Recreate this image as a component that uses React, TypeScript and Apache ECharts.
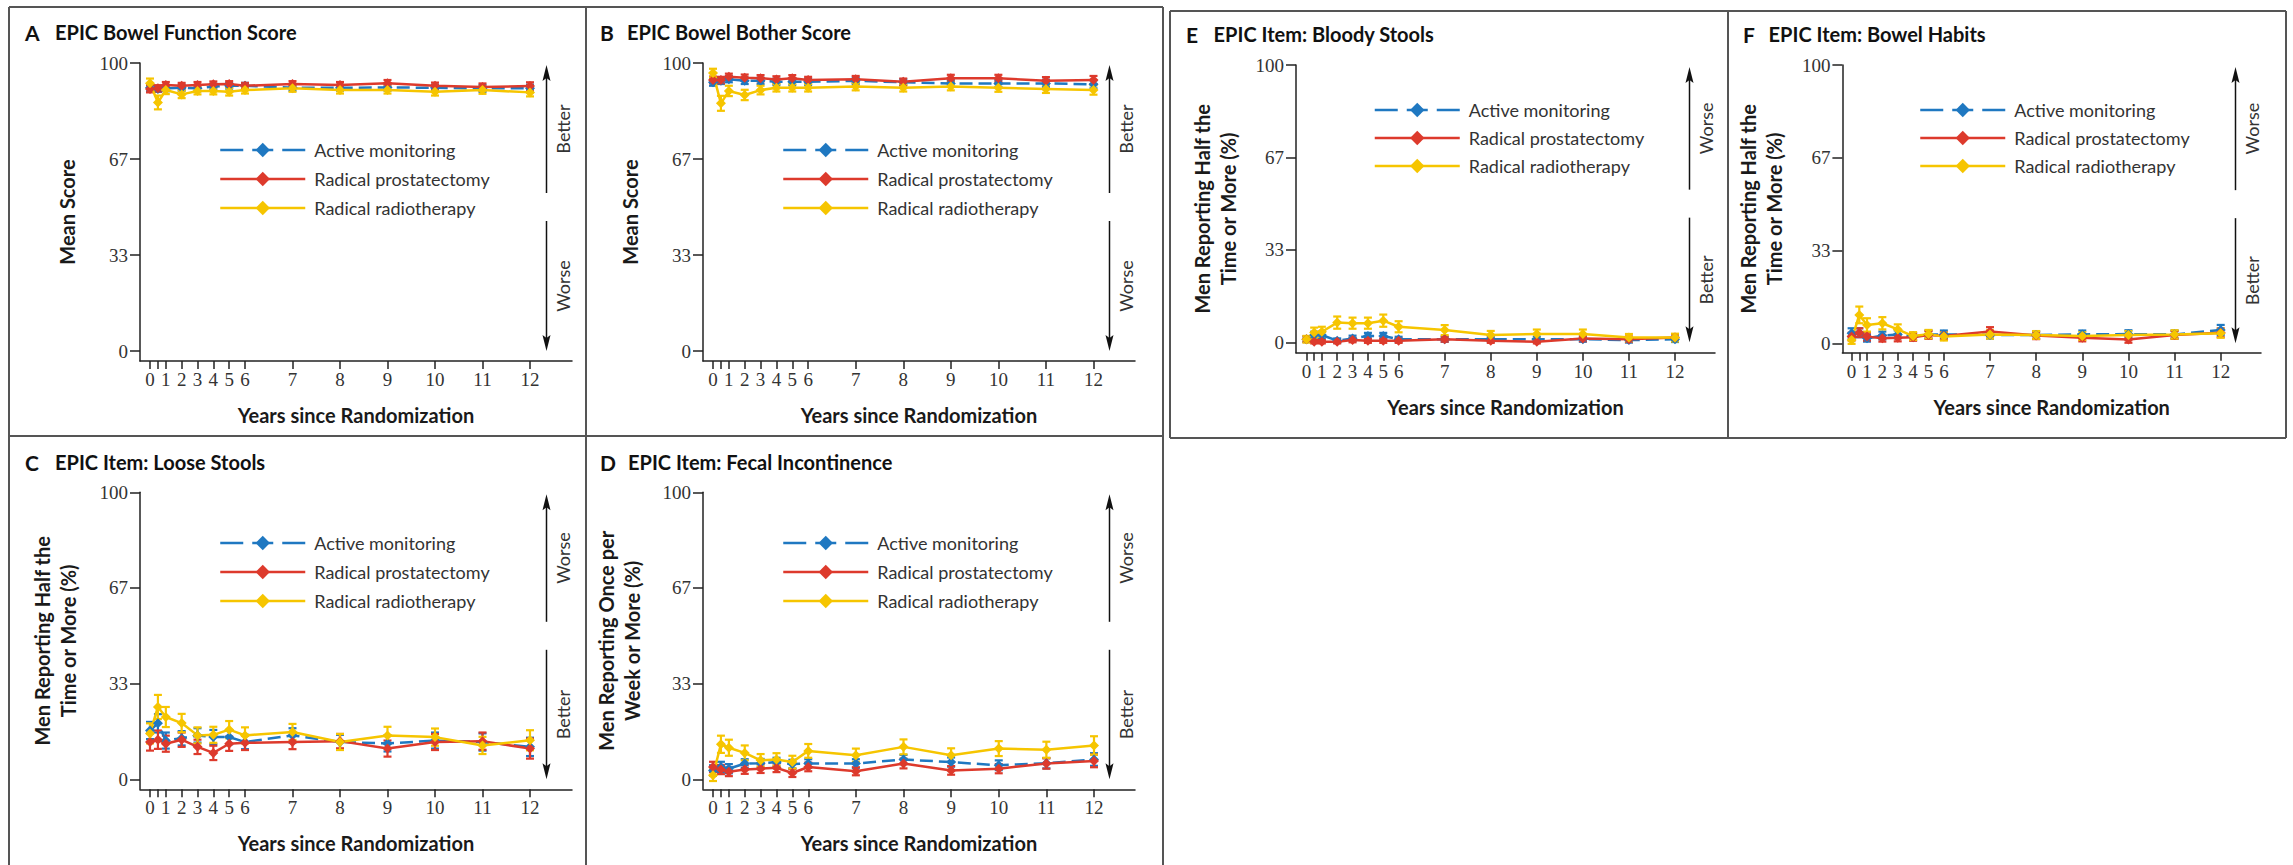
import React, { useEffect, useRef } from 'react';
import * as echarts from 'echarts';

// ---------------- data ----------------
const years = [0, 0.5, 1, 2, 3, 4, 5, 6, 7, 8, 9, 10, 11, 12];
const xTickYears = [0, 0.5, 1, 2, 3, 4, 5, 6, 7, 8, 9, 10, 11, 12];
const xLabelYears = [0, 1, 2, 3, 4, 5, 6, 7, 8, 9, 10, 11, 12];
const yTickValues = [0, 100 / 3, 200 / 3, 100];
const seriesNames = ['Active monitoring', 'Radical prostatectomy', 'Radical radiotherapy'];

const panelLetters = ['A', 'B', 'C', 'D', 'E', 'F'];
const panelTitles = [
  'EPIC Bowel Function Score',
  'EPIC Bowel Bother Score',
  'EPIC Item: Loose Stools',
  'EPIC Item: Fecal Incontinence',
  'EPIC Item: Bloody Stools',
  'EPIC Item: Bowel Habits',
];
const yAxisTitles = [
  'Mean Score',
  'Mean Score',
  'Men Reporting Half the\nTime or More (%)',
  'Men Reporting Once per\nWeek or More (%)',
  'Men Reporting Half the\nTime or More (%)',
  'Men Reporting Half the\nTime or More (%)',
];
const upperLabels = ['Better', 'Better', 'Worse', 'Worse', 'Worse', 'Worse'];
const lowerLabels = ['Worse', 'Worse', 'Better', 'Better', 'Better', 'Better'];

// A: Bowel function
const amA = [91.4, 91.0, 91.2, 91.4, 91.2, 91.8, 92.1, 92.1, 91.4, 91.4, 91.5, 91.4, 91.2, 91.2];
const amACi = [1.2, 1.0, 1.0, 1.0, 1.0, 1.0, 1.0, 1.0, 1.0, 1.0, 1.1, 1.1, 1.2, 1.3];
const rpA = [91.0, 91.2, 92.4, 92.1, 92.4, 92.6, 92.7, 92.1, 92.7, 92.4, 93.0, 92.1, 91.7, 92.0];
const rpACi = [1.2, 1.1, 1.0, 1.0, 1.0, 1.0, 1.0, 1.0, 1.0, 1.0, 1.1, 1.1, 1.2, 1.3];
const rrA = [93.0, 86.3, 90.6, 89.1, 90.3, 90.3, 90.0, 90.6, 91.2, 90.6, 90.6, 90.0, 90.6, 89.8];
const rrACi = [1.6, 2.4, 1.4, 1.3, 1.2, 1.2, 1.3, 1.2, 1.2, 1.2, 1.2, 1.3, 1.3, 1.4];

// B: Bowel bother
const amB = [93.3, 93.8, 94.4, 93.8, 93.8, 93.5, 93.5, 93.5, 93.8, 93.3, 92.9, 92.9, 92.9, 92.6];
const amBCi = [1.2, 1.1, 1.1, 1.1, 1.1, 1.1, 1.1, 1.1, 1.1, 1.1, 1.2, 1.2, 1.3, 1.4];
const rpB = [94.1, 94.1, 95.2, 94.9, 94.7, 94.3, 94.7, 94.1, 94.4, 93.5, 94.7, 94.7, 93.8, 94.1];
const rpBCi = [1.2, 1.1, 1.1, 1.1, 1.1, 1.1, 1.1, 1.1, 1.1, 1.1, 1.2, 1.2, 1.3, 1.4];
const rrB = [96.5, 86.0, 90.3, 88.9, 90.6, 91.4, 91.4, 91.4, 91.8, 91.4, 91.8, 91.4, 91.0, 90.6];
const rrBCi = [1.5, 2.6, 1.8, 1.8, 1.5, 1.3, 1.3, 1.3, 1.3, 1.3, 1.3, 1.4, 1.4, 1.6];

// C: Loose stools
const amC = [17.0, 19.5, 13.5, 14.3, 15.3, 14.7, 14.7, 13.0, 15.3, 13.0, 12.5, 13.5, 13.0, 11.3];
const amCCi = [3.0, 3.2, 2.8, 2.5, 2.5, 2.5, 2.5, 2.5, 2.5, 2.5, 2.8, 2.8, 3.0, 3.2];
const rpC = [13.0, 13.8, 12.4, 13.8, 11.3, 9.2, 12.4, 12.7, 13.0, 13.3, 10.7, 13.0, 13.3, 10.7];
const rpCCi = [3.0, 3.2, 2.8, 2.5, 2.5, 2.5, 2.5, 2.5, 2.5, 2.5, 2.8, 2.8, 3.0, 3.5];
const rrC = [16.0, 25.2, 21.7, 19.6, 15.3, 15.5, 17.3, 15.3, 16.5, 13.0, 15.3, 14.7, 11.8, 13.6];
const rrCCi = [3.5, 4.2, 3.5, 3.2, 2.8, 2.8, 3.0, 2.8, 2.8, 2.8, 3.0, 3.0, 3.0, 3.5];

// D: Fecal incontinence
const amD = [3.1, 4.3, 3.7, 5.5, 5.6, 6.0, 5.3, 5.5, 5.5, 6.9, 6.0, 4.9, 5.6, 6.9];
const amDCi = [1.8, 1.8, 1.6, 1.5, 1.5, 1.5, 1.5, 1.5, 1.5, 1.6, 1.6, 1.7, 1.8, 2.2];
const rpD = [4.3, 3.4, 2.6, 3.4, 3.7, 4.0, 2.2, 4.3, 2.8, 5.5, 3.1, 3.7, 5.5, 6.4];
const rpDCi = [1.8, 1.6, 1.5, 1.5, 1.5, 1.5, 1.4, 1.5, 1.4, 1.7, 1.5, 1.6, 1.8, 2.2];
const rrD = [1.4, 12.2, 11.0, 9.2, 6.6, 6.9, 6.0, 9.9, 8.4, 11.3, 8.4, 10.7, 10.3, 11.8];
const rrDCi = [2.0, 3.0, 2.8, 2.6, 2.2, 2.2, 2.2, 2.4, 2.3, 2.6, 2.4, 2.6, 2.8, 3.2];

// E: Bloody stools
const amE = [1.1, 2.6, 2.6, 0.6, 1.4, 2.3, 2.3, 1.1, 1.1, 1.1, 1.1, 1.1, 0.8, 1.1];
const amECi = [1.0, 1.2, 1.2, 0.8, 1.0, 1.1, 1.1, 0.9, 0.9, 0.9, 0.9, 0.9, 0.9, 1.0];
const rpE = [1.1, 0.2, 0.2, 0.2, 0.8, 0.6, 0.6, 0.6, 1.1, 0.6, 0.2, 1.4, 1.1, 1.7];
const rpECi = [1.0, 0.6, 0.6, 0.6, 0.8, 0.8, 0.8, 0.8, 0.9, 0.8, 0.6, 1.0, 1.0, 1.2];
const rrE = [1.1, 3.5, 3.8, 7.1, 6.9, 6.9, 7.8, 5.6, 4.4, 2.6, 3.0, 3.0, 1.7, 1.7];
const rrECi = [1.2, 1.8, 1.8, 2.2, 2.0, 2.0, 2.2, 2.0, 1.8, 1.5, 1.6, 1.6, 1.3, 1.4];

// F: Bowel habits
const amF = [3.6, 3.8, 1.8, 2.8, 3.2, 2.4, 3.2, 3.2, 3.0, 3.0, 3.2, 3.3, 3.2, 4.8];
const amFCi = [1.8, 1.6, 1.2, 1.4, 1.4, 1.2, 1.4, 1.4, 1.3, 1.3, 1.4, 1.4, 1.4, 1.8];
const rpF = [2.4, 3.8, 2.4, 1.8, 2.0, 2.2, 3.0, 2.6, 4.2, 2.8, 2.0, 1.4, 3.0, 3.8];
const rpFCi = [1.4, 1.6, 1.4, 1.2, 1.3, 1.3, 1.4, 1.3, 1.6, 1.3, 1.3, 1.2, 1.4, 1.6];
const rrF = [1.2, 10.2, 6.6, 7.2, 5.0, 2.6, 3.3, 2.4, 3.2, 3.0, 2.6, 3.0, 3.2, 3.6];
const rrFCi = [1.4, 3.0, 2.4, 2.2, 1.8, 1.4, 1.5, 1.4, 1.5, 1.4, 1.4, 1.4, 1.5, 1.6];

const panelData = [
  [[amA, amACi], [rpA, rpACi], [rrA, rrACi]],
  [[amB, amBCi], [rpB, rpBCi], [rrB, rrBCi]],
  [[amC, amCCi], [rpC, rpCCi], [rrC, rrCCi]],
  [[amD, amDCi], [rpD, rpDCi], [rrD, rrDCi]],
  [[amE, amECi], [rpE, rpECi], [rrE, rrECi]],
  [[amF, amFCi], [rpF, rpFCi], [rrF, rrFCi]],
];

// ---------------- layout / style ----------------
const COLORS = ['#1f78c1', '#dd3a2c', '#f6c500'];
const SANS = 'Lato, "Open Sans", sans-serif';
const SERIF = '"Liberation Serif", "DejaVu Serif", serif';
const AXIS = '#222222';
const BORDER = '#555555';

// left = y-axis line x, x0/x12 = pixel of year 0/12, right = x-axis end,
// y100/y0 = pixel of 100/0, yb = x-axis line y
const layout = [
  { left: 140, x0: 150, x12: 530, right: 572, y100: 63, y0: 351, yb: 361, nameGap: 60, letterX: 25, titleX: 55, titleY: 32, legLeft: 219, legRow: 150, legStep: 28 },
  { left: 703, x0: 713, x12: 1093.5, right: 1135, y100: 63, y0: 351, yb: 361, nameGap: 60, letterX: 600, titleX: 627, titleY: 32, legLeft: 782, legRow: 150, legStep: 28 },
  { left: 140, x0: 150, x12: 530, right: 572, y100: 492.3, y0: 779.3, yb: 789.3, nameGap: 59, letterX: 25, titleX: 55, titleY: 462, legLeft: 219, legRow: 543, legStep: 28 },
  { left: 703, x0: 713, x12: 1094, right: 1135, y100: 492.3, y0: 779.3, yb: 789.3, nameGap: 58, letterX: 600, titleX: 628, titleY: 462, legLeft: 782, legRow: 543, legStep: 28 },
  { left: 1296, x0: 1306.5, x12: 1675, right: 1715, y100: 65, y0: 342.3, yb: 352.7, nameGap: 55, letterX: 1186, titleX: 1213.6, titleY: 34, legLeft: 1373.5, legRow: 110, legStep: 27 },
  { left: 1842.4, x0: 1851.6, x12: 2220.7, right: 2261, y100: 65, y0: 343.3, yb: 352.7, nameGap: 55, letterX: 1743, titleX: 1768.6, titleY: 34, legLeft: 1919, legRow: 110, legStep: 27 },
];

// years 0-6 are drawn at one third of the scale of years 6-12
const tx = (y: number) => (y <= 6 ? y / 3 : y - 4);
const inv = (v: number) => Math.round(v <= 2.0001 ? v * 3 : v + 4);

function buildOption() {
  const grid: any[] = [];
  const xAxis: any[] = [];
  const yAxis: any[] = [];
  const series: any[] = [];
  const legend: any[] = [];
  const graphic: any[] = [];

  layout.forEach((p, i) => {
    const ppu = (p.x12 - p.x0) / 8;
    const xMin = (p.left - p.x0) / ppu;
    const xMax = (p.right - p.x0) / ppu;
    const yMin = -((p.yb - p.y0) / (p.y0 - p.y100)) * 100;
    grid.push({ left: p.left, top: p.y100, width: p.right - p.left, height: p.yb - p.y100 });
    xAxis.push({
      gridIndex: i,
      type: 'value',
      min: xMin,
      max: xMax,
      axisLine: { onZero: false, lineStyle: { color: AXIS, width: 1.5 } },
      axisTick: { customValues: xTickYears.map(tx), length: 8, lineStyle: { color: AXIS, width: 1.5 } },
      axisLabel: {
        customValues: xLabelYears.map(tx),
        formatter: (v: number) => String(inv(v)),
        fontFamily: SERIF,
        fontSize: 19,
        color: '#333',
        margin: 9,
      },
      splitLine: { show: false },
      name: 'Years since Randomization',
      nameLocation: 'middle',
      nameGap: 44,
      nameTextStyle: { fontFamily: SANS, fontWeight: 'bold', fontSize: 20, color: '#1a1a1a' },
    });
    yAxis.push({
      gridIndex: i,
      type: 'value',
      min: yMin,
      max: 100,
      axisLine: { show: true, onZero: false, lineStyle: { color: AXIS, width: 1.5 } },
      axisTick: { show: true, customValues: yTickValues, length: 10, lineStyle: { color: AXIS, width: 1.5 } },
      axisLabel: {
        customValues: yTickValues,
        formatter: (v: number) => String(Math.round(v)),
        fontFamily: SERIF,
        fontSize: 19,
        color: '#333',
        margin: 12,
      },
      splitLine: { show: false },
      name: yAxisTitles[i],
      nameLocation: 'middle',
      nameGap: p.nameGap,
      nameTextStyle: { fontFamily: SANS, fontWeight: 'bold', fontSize: 20, lineHeight: 26, color: '#1a1a1a' },
    });

    panelData[i].forEach(([vals, ci], s) => {
      const color = COLORS[s];
      series.push({
        type: 'custom',
        name: 'err-' + i + '-' + s,
        xAxisIndex: i,
        yAxisIndex: i,
        silent: true,
        z: 2,
        data: years.map((y, k) => [tx(y), vals[k] - ci[k], vals[k] + ci[k]]),
        encode: { x: 0, y: [1, 2] },
        renderItem: (_params: any, api: any) => {
          const x = api.value(0);
          const lo = api.coord([x, api.value(1)]);
          const hi = api.coord([x, api.value(2)]);
          const hw = 4;
          const st = { stroke: color, lineWidth: 2.2 };
          return {
            type: 'group',
            children: [
              { type: 'line', shape: { x1: lo[0], y1: lo[1], x2: hi[0], y2: hi[1] }, style: st },
              { type: 'line', shape: { x1: lo[0] - hw, y1: lo[1], x2: lo[0] + hw, y2: lo[1] }, style: st },
              { type: 'line', shape: { x1: hi[0] - hw, y1: hi[1], x2: hi[0] + hw, y2: hi[1] }, style: st },
            ],
          };
        },
      });
      series.push({
        type: 'line',
        name: seriesNames[s],
        xAxisIndex: i,
        yAxisIndex: i,
        z: 3,
        data: years.map((y, k) => [tx(y), vals[k]]),
        symbol: 'diamond',
        symbolSize: 10,
        showAllSymbol: true,
        itemStyle: { color },
        lineStyle: { color, width: 2.5, type: s === 0 ? [13, 6] : 'solid' },
      });
    });

    legend.push({
      left: p.legLeft,
      top: p.legRow - 9,
      padding: 0,
      orient: 'vertical',
      itemWidth: 85,
      itemHeight: 18,
      itemGap: p.legStep - 17,
      selectedMode: false,
      lineStyle: { width: 2.5 },
      data: [
        { name: seriesNames[0], lineStyle: { width: 2.5, type: [23, 9, 21, 9, 23, 100] } },
        { name: seriesNames[1] },
        { name: seriesNames[2] },
      ],
      textStyle: { fontFamily: SANS, fontSize: 18, color: '#333', padding: [0, 0, 0, 4] },
    });

    // title
    graphic.push({
      type: 'text', x: p.letterX, y: p.titleY,
      style: { text: panelLetters[i], font: `bold 21px ${SANS}`, fill: '#111', verticalAlign: 'middle' },
    });
    graphic.push({
      type: 'text', x: p.titleX, y: p.titleY,
      style: { text: panelTitles[i], font: `bold 20px ${SANS}`, fill: '#111', verticalAlign: 'middle' },
    });

    // better / worse arrows
    const ax = p.right - 25.5;
    const top = p.y100 + 2;
    const bot = p.y0;
    const mid = (p.y100 + p.y0) / 2;
    const gapTop = mid - 14;
    const gapBot = mid + 14;
    const lineSt = { stroke: '#111', lineWidth: 1.5 };
    graphic.push({ type: 'line', shape: { x1: ax, y1: top + 10, x2: ax, y2: gapTop }, style: lineSt });
    graphic.push({ type: 'line', shape: { x1: ax, y1: gapBot, x2: ax, y2: bot - 10 }, style: lineSt });
    graphic.push({ type: 'polygon', shape: { points: [[ax, top], [ax - 4, top + 16], [ax, top + 13], [ax + 4, top + 16]] }, style: { fill: '#111' } });
    graphic.push({ type: 'polygon', shape: { points: [[ax, bot], [ax - 4, bot - 16], [ax, bot - 13], [ax + 4, bot - 16]] }, style: { fill: '#111' } });
    graphic.push({
      type: 'text', x: ax + 16, y: (top + gapTop) / 2, rotation: Math.PI / 2,
      style: { text: upperLabels[i], font: `18px ${SANS}`, fill: '#333', align: 'center', verticalAlign: 'middle' },
    });
    graphic.push({
      type: 'text', x: ax + 16, y: (gapBot + bot) / 2, rotation: Math.PI / 2,
      style: { text: lowerLabels[i], font: `18px ${SANS}`, fill: '#333', align: 'center', verticalAlign: 'middle' },
    });
  });

  // panel frames
  const b = { stroke: BORDER, lineWidth: 2 };
  const frameLines = [
    [9, 7, 1163, 7],
    [9, 7, 9, 865],
    [586, 7, 586, 865],
    [1163, 7, 1163, 865],
    [9, 436, 1163, 436],
    [1170, 11, 2286, 11],
    [1170, 438, 2286, 438],
    [1170, 11, 1170, 438],
    [1728, 11, 1728, 438],
    [2286, 11, 2286, 438],
  ];
  frameLines.forEach(([x1, y1, x2, y2]) => {
    graphic.push({ type: 'line', shape: { x1, y1, x2, y2 }, style: b, silent: true });
  });

  return {
    animation: false,
    backgroundColor: '#ffffff',
    grid,
    xAxis,
    yAxis,
    legend,
    series,
    graphic,
  };
}

export default function App() {
  const ref = useRef<HTMLDivElement>(null);
  useEffect(() => {
    if (!ref.current) return;
    const chart = echarts.init(ref.current, undefined, { renderer: 'svg' });
    chart.setOption(buildOption() as any);
    return () => chart.dispose();
  }, []);
  return <div ref={ref} style={{ position: 'absolute', left: 0, top: 0, width: 2293, height: 865 }} />;
}
